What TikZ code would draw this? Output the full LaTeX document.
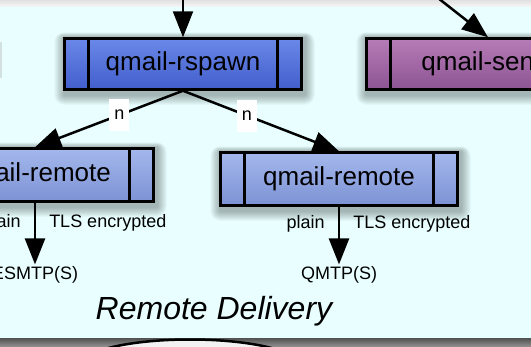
\documentclass[tikz,border=0pt]{standalone}
\usepackage{fontspec}
\setmainfont{Liberation Sans}
\usetikzlibrary{arrows.meta,trees}
\definecolor{panelcyan}{RGB}{233,255,255}
\definecolor{rspawntop}{RGB}{106,136,232}
\definecolor{rspawnbot}{RGB}{66,94,204}
\definecolor{remotetop}{RGB}{164,184,236}
\definecolor{remotebot}{RGB}{124,146,212}
\definecolor{sendtop}{RGB}{182,124,184}
\definecolor{sendbot}{RGB}{140,84,146}
\pgfdeclarelayer{panel}
\pgfdeclarelayer{shadow}
\pgfsetlayers{panel,shadow,main}
\begin{document}
\begin{tikzpicture}
[x=1pt,y=-1pt,
 level 1/.style={grow via three points={one child at (0,113) and
   two children at (-148,111) and (156,115)}},
 level 2/.style={grow=down,level distance=100pt},
 proc/.style=
   {rectangle,draw=black,line width=2.5pt,minimum width=237pt,
    minimum height=51pt,font=\fontsize{26}{30}\selectfont,
    path picture={
      \draw[line width=2.5pt]
        ([xshift=24pt]path picture bounding box.north west) --
        ([xshift=24pt]path picture bounding box.south west)
        ([xshift=-24pt]path picture bounding box.north east) --
        ([xshift=-24pt]path picture bounding box.south east);}},
 remote/.style={top color=remotetop,bottom color=remotebot,minimum height=53pt},
 nlab/.style={fill=white,inner sep=0pt,minimum width=20pt,minimum height=32pt,
   font=\fontsize{18}{20}\selectfont},
 lab/.style={inner sep=2pt,font=\fontsize{18}{20}\selectfont},
 arrowline/.style={draw,line width=2.5pt,-{Triangle[length=26pt,width=20pt]}},
 edge from parent/.style={arrowline},
 edge from parent path={(\tikzparentnode.south) -- (\tikzchildnode.north)}]
\useasboundingbox (0,0) rectangle (531,346);
% surroundings of the panel
\begin{pgfonlayer}{panel}
\shade[top color=black!12,bottom color=black!3] (0,0) rectangle (531,7);
\fill[panelcyan] (-10,7) rectangle (541,338);
\shade[top color=black!68,bottom color=black!45] (0,338) rectangle (531,346);
\fill[black!30,opacity=.4] (-20,42) rectangle (2,78);
\draw[line width=2.5pt,fill=black!5] (190,364.5) ellipse [x radius=108.5,y radius=25];
\end{pgfonlayer}
% delivery tree
\node [proc,top color=rspawntop,bottom color=rspawnbot] (rspawn) at (183,64) {qmail-rspawn}
  child {node [proc,remote] (remoteL) {qmail-remote}
    child {node [lab] (esmtp) {ESMTP(S)}
      edge from parent node [lab,pos=0.32,left=11pt] {plain}
                       node [lab,pos=0.32,right=11pt] {TLS encrypted}}
    edge from parent node [nlab,pos=0.43] {n}}
  child {node [proc,remote] (remoteR) {qmail-remote}
    child [level distance=96pt] {node [lab] (qmtp) {QMTP(S)}
      edge from parent node [lab,pos=0.3,left=11pt] {plain}
                       node [lab,pos=0.3,right=11pt] {TLS encrypted}}
    edge from parent node [nlab,pos=0.41] {n}};
\node [proc,top color=sendtop,bottom color=sendbot] (send) at (485,64) {qmail-send};
\coordinate (rspawnin) at (183,-2);
\coordinate (sendin) at (438,-2);
\draw [arrowline] (rspawnin) -- (rspawn.north);
\draw [arrowline] (sendin) -- ([xshift=3pt]send.north);
\node [font=\fontsize{32}{36}\selectfont\itshape] (title) at (214,311) {Remote Delivery};
% soft shadows under the boxes
\begin{pgfonlayer}{shadow}
\foreach \n in {rspawn,remoteL,remoteR,send}
  \foreach \r in {1,...,10}
    \fill[black,opacity=0.03,rounded corners=\r pt]
      ([xshift={1pt-\r pt},yshift={\r pt/2}]\n.north west) rectangle
      ([xshift={2pt+\r pt},yshift={-4pt-\r pt}]\n.south east);
\end{pgfonlayer}
\end{tikzpicture}
\end{document}
